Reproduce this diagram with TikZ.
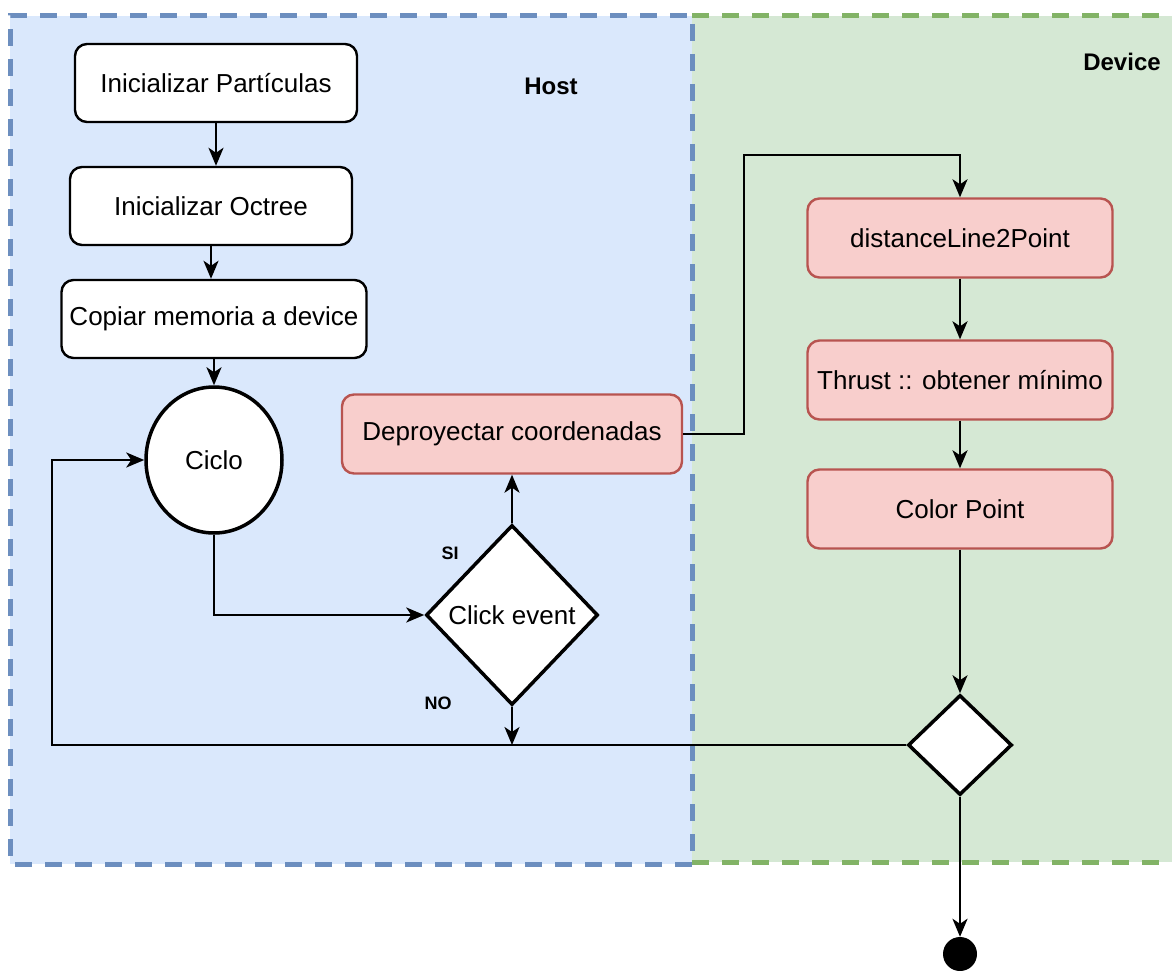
\documentclass[tikz,border=0pt]{standalone}
\usepackage{fontspec}
\setmainfont{Liberation Sans}
\usetikzlibrary{arrows.meta,shapes.geometric,calc}
\definecolor{hostfill}{HTML}{DAE8FC}
\definecolor{hostdraw}{HTML}{6C8EBF}
\definecolor{devfill}{HTML}{D5E8D4}
\definecolor{devdraw}{HTML}{82B366}
\definecolor{redfill}{HTML}{F8CECC}
\definecolor{reddraw}{HTML}{B85450}
\begin{document}
\begin{tikzpicture}[x=1pt,y=-1pt,
  txt/.style={font=\fontsize{26}{30}\selectfont, text=black},
  whitebox/.style={txt, draw=black, fill=white, rounded corners=12pt, line width=2.4pt, minimum height=78pt, inner sep=0pt},
  redbox/.style={txt, draw=reddraw, fill=redfill, rounded corners=12pt, line width=2.4pt, minimum width=305pt, minimum height=79pt, inner sep=0pt},
  decision/.style={txt, diamond, draw=black, fill=white, line width=3.5pt, inner sep=0pt},
  arr/.style={draw=black, line width=2.4pt, -{Stealth[length=18pt,width=15pt,inset=5pt]}},
  region/.style={line width=5pt, dash pattern=on 17pt off 13pt},
  lbl/.style={font=\bfseries\fontsize{24}{28}\selectfont},
  small/.style={font=\bfseries\fontsize{18}{22}\selectfont}
]
\useasboundingbox (0,0) rectangle (1172,971);
% regions
\fill[hostfill] (10,16) rectangle (692,864);
\fill[devfill] (692,16) rectangle (1190,862);
\draw[region, devdraw] (692,16) -- (1190,16);
\draw[region, devdraw] (692,862) -- (1190,862);
\draw[region, hostdraw] (692,864) -- (10,864) -- (10,16) -- (692,16) -- cycle;
\node[lbl] (hostlbl) at (551,86) {Host};
\node[lbl] (devlbl) at (1122,62) {Device};

% host nodes
\node[whitebox, minimum width=282pt] (part) at (216,83) {Inicializar Partículas};
\node[whitebox, minimum width=282pt] (oct) at (211,206) {Inicializar Octree};
\node[whitebox, minimum width=305pt] (copy) at (214,319) {Copiar memoria a device};
\node[txt, ellipse, draw=black, fill=white, line width=3.5pt, minimum width=136pt, minimum height=146pt, inner sep=0pt] (ciclo) at (214,460) {Ciclo};
\node[redbox, minimum width=340pt] (deproj) at (512,434) {Deproyectar coordenadas};
\node[decision, minimum width=172pt, minimum height=180pt] (click) at (512,615) {Click event};

% device nodes
\node[redbox] (dist) at (960,238) {distanceLine2Point};
\node[redbox] (thrust) at (960,380) {Thrust :: obtener mínimo};
\node[redbox] (color) at (960,509) {Color Point};
\node[decision, minimum width=104pt, minimum height=100pt] (merge) at (960,745) {};
\node[circle, fill=black, minimum size=34pt, inner sep=0pt] (end) at (960,954) {};

% labels
\node[small] (si) at (450,553) {SI};
\node[small] (no) at (438,703) {NO};

% helper coordinates
\coordinate (up) at (744,155);
\coordinate (back) at (52,745);
\coordinate (join) at (512,745);

% connectors
\draw[arr] (part) -- (part.south |- oct.north);
\draw[arr] (oct.south) -- (oct.south |- copy.north);
\draw[arr] (copy.south -| ciclo.north) -- (ciclo.north);
\draw[arr] (ciclo.south) |- (click.west);
\draw[arr] (click.north) -- (deproj.south);
\draw[arr] (deproj.east) -| (up) -| (dist.north);
\draw[arr] (dist) -- (thrust);
\draw[arr] (thrust) -- (color);
\draw[arr] (color) -- (merge.north);
\draw[arr] (click.south) -- (join);
\draw[arr] (merge.west) -- (back) |- (ciclo.west);
\draw[arr] (merge.south) -- (end.north);
\end{tikzpicture}
\end{document}
